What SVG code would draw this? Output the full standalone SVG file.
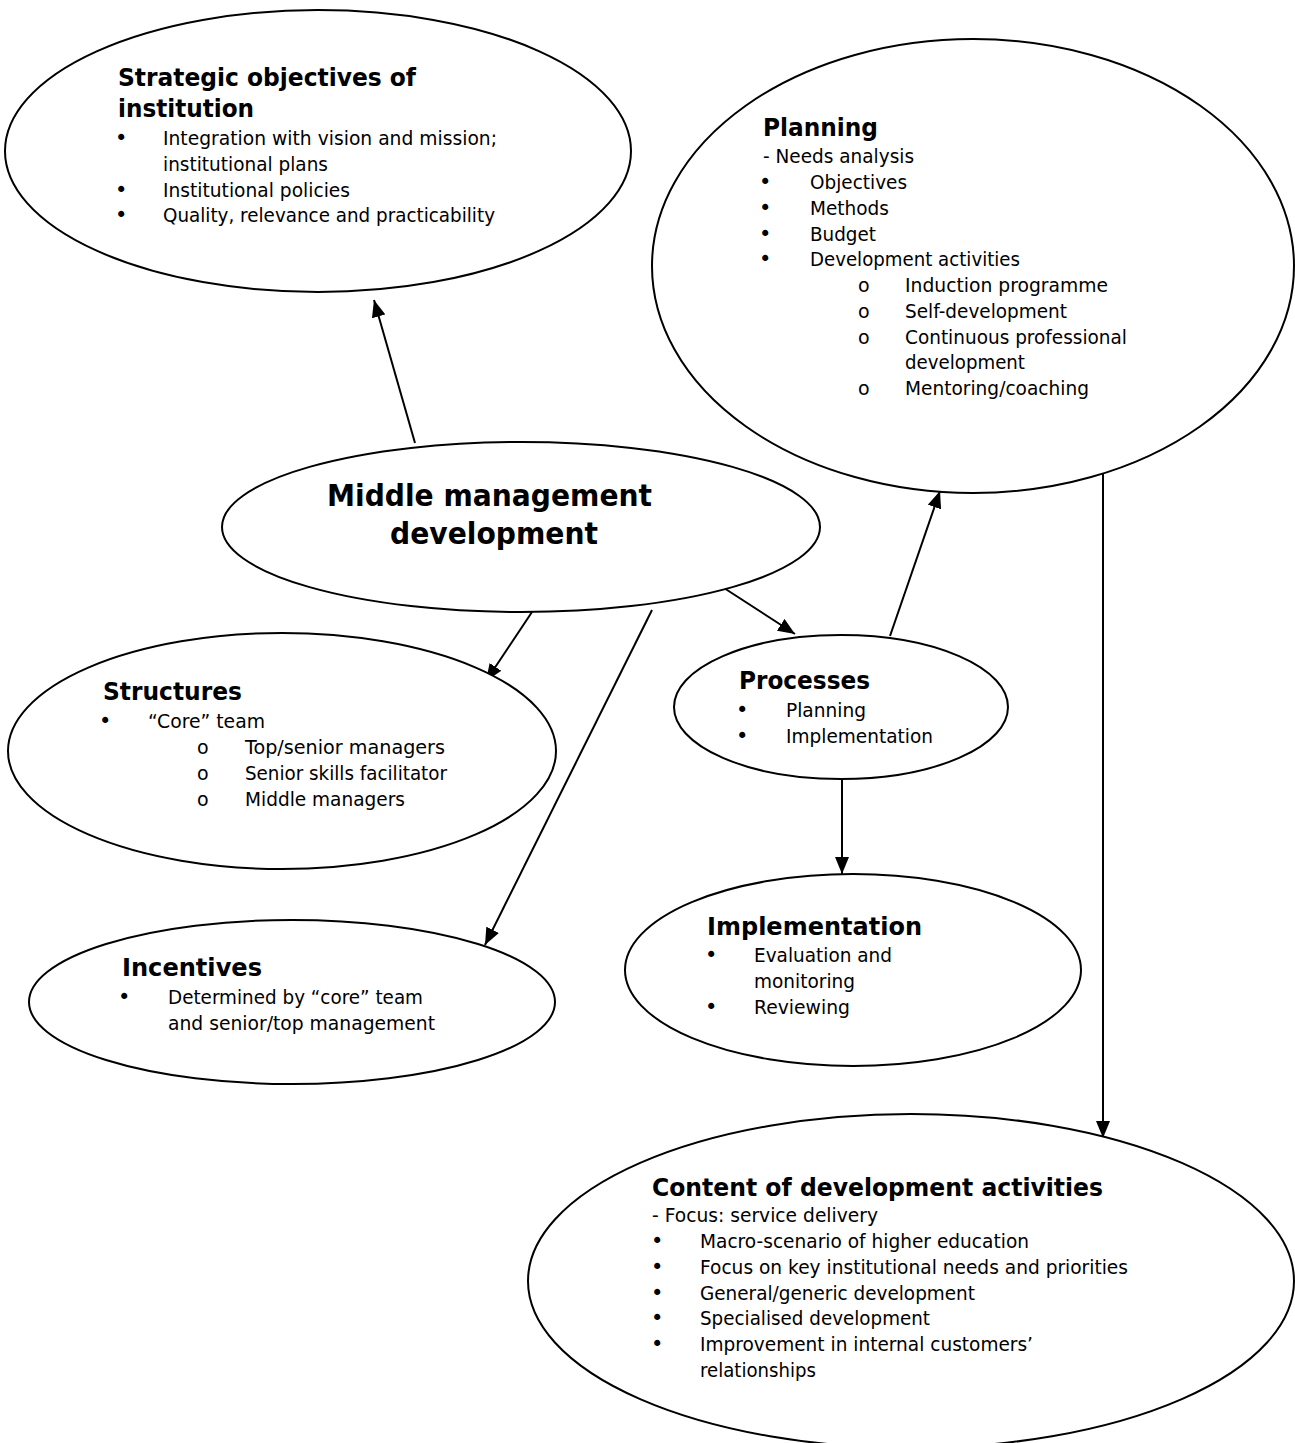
<svg xmlns="http://www.w3.org/2000/svg" width="1295" height="1443" viewBox="0 0 1295 1443">
<defs>
<style>
.n{fill:#fff;stroke:#000;stroke-width:2}
.t{font-family:"DejaVu Sans","Liberation Sans",sans-serif;font-size:19px;fill:#000}
.o{font-family:"DejaVu Sans","Liberation Sans",sans-serif;font-size:19px;fill:#000}
.h{font-family:"DejaVu Sans","Liberation Sans",sans-serif;font-size:24px;font-weight:bold;fill:#000}
.m{font-family:"DejaVu Sans","Liberation Sans",sans-serif;font-size:30px;font-weight:bold;fill:#000}
.b{font-family:"DejaVu Sans","Liberation Sans",sans-serif;font-size:21px;fill:#000}
.c{stroke:#000;stroke-width:2;fill:none;marker-end:url(#ah)}
</style>
<marker id="ah" markerUnits="userSpaceOnUse" markerWidth="18" markerHeight="14" refX="17" refY="7" orient="auto">
<path d="M0,0 L17,7 L0,14 z" fill="#000"/>
</marker>
</defs>
<rect width="1295" height="1443" fill="#fff"/>

<g id="connectors">
<line class="c" x1="415" y1="443" x2="374" y2="300"/>
<line class="c" x1="1103" y1="466" x2="1103" y2="1138"/>
<line class="c" x1="532" y1="612" x2="486" y2="681"/>
<line class="c" x1="652" y1="610" x2="485" y2="945"/>
<line class="c" x1="724" y1="588" x2="795" y2="634"/>
<line class="c" x1="890" y1="636" x2="940" y2="491"/>
<line class="c" x1="842" y1="780" x2="842" y2="874"/>
</g>

<g id="strategic">
<ellipse class="n" cx="318" cy="151" rx="313" ry="141"/>
<text class="h" x="118" y="86" textLength="298" lengthAdjust="spacingAndGlyphs">Strategic objectives of</text>
<text class="h" x="118" y="117" textLength="136" lengthAdjust="spacingAndGlyphs">institution</text>
<text class="b" x="115" y="145">•</text>
<text class="t" x="163" y="145" textLength="334" lengthAdjust="spacingAndGlyphs">Integration with vision and mission;</text>
<text class="t" x="163" y="171" textLength="165" lengthAdjust="spacingAndGlyphs">institutional plans</text>
<text class="b" x="115" y="197">•</text>
<text class="t" x="163" y="197" textLength="187" lengthAdjust="spacingAndGlyphs">Institutional policies</text>
<text class="b" x="115" y="222">•</text>
<text class="t" x="163" y="222" textLength="332" lengthAdjust="spacingAndGlyphs">Quality, relevance and practicability</text>
</g>

<g id="planning">
<ellipse class="n" cx="973" cy="266" rx="321" ry="227"/>
<text class="h" x="763" y="136" textLength="115" lengthAdjust="spacingAndGlyphs">Planning</text>
<text class="t" x="763" y="163" textLength="151" lengthAdjust="spacingAndGlyphs">- Needs analysis</text>
<text class="b" x="759" y="189">•</text>
<text class="t" x="810" y="189" textLength="97" lengthAdjust="spacingAndGlyphs">Objectives</text>
<text class="b" x="759" y="215">•</text>
<text class="t" x="810" y="215" textLength="79" lengthAdjust="spacingAndGlyphs">Methods</text>
<text class="b" x="759" y="241">•</text>
<text class="t" x="810" y="241" textLength="66" lengthAdjust="spacingAndGlyphs">Budget</text>
<text class="b" x="759" y="266">•</text>
<text class="t" x="810" y="266" textLength="210" lengthAdjust="spacingAndGlyphs">Development activities</text>
<text class="o" x="858" y="292">o</text>
<text class="t" x="905" y="292" textLength="203" lengthAdjust="spacingAndGlyphs">Induction programme</text>
<text class="o" x="858" y="318">o</text>
<text class="t" x="905" y="318" textLength="162" lengthAdjust="spacingAndGlyphs">Self-development</text>
<text class="o" x="858" y="344">o</text>
<text class="t" x="905" y="344" textLength="222" lengthAdjust="spacingAndGlyphs">Continuous professional</text>
<text class="t" x="905" y="369" textLength="120" lengthAdjust="spacingAndGlyphs">development</text>
<text class="o" x="858" y="395">o</text>
<text class="t" x="905" y="395" textLength="184" lengthAdjust="spacingAndGlyphs">Mentoring/coaching</text>
</g>

<g id="middle">
<ellipse class="n" cx="521" cy="527" rx="299" ry="85"/>
<text class="m" x="327" y="506" textLength="325" lengthAdjust="spacingAndGlyphs">Middle management</text>
<text class="m" x="390" y="544" textLength="208" lengthAdjust="spacingAndGlyphs">development</text>
</g>

<g id="structures">
<ellipse class="n" cx="282" cy="751" rx="274" ry="118"/>
<text class="h" x="103" y="700" textLength="139" lengthAdjust="spacingAndGlyphs">Structures</text>
<text class="b" x="99" y="728">•</text>
<text class="t" x="148" y="728" textLength="117" lengthAdjust="spacingAndGlyphs">“Core” team</text>
<text class="o" x="197" y="754">o</text>
<text class="t" x="245" y="754" textLength="200" lengthAdjust="spacingAndGlyphs">Top/senior managers</text>
<text class="o" x="197" y="780">o</text>
<text class="t" x="245" y="780" textLength="202" lengthAdjust="spacingAndGlyphs">Senior skills facilitator</text>
<text class="o" x="197" y="806">o</text>
<text class="t" x="245" y="806" textLength="160" lengthAdjust="spacingAndGlyphs">Middle managers</text>
</g>

<g id="incentives">
<ellipse class="n" cx="292" cy="1002" rx="263" ry="82"/>
<text class="h" x="122" y="976" textLength="140" lengthAdjust="spacingAndGlyphs">Incentives</text>
<text class="b" x="118" y="1004">•</text>
<text class="t" x="168" y="1004" textLength="255" lengthAdjust="spacingAndGlyphs">Determined by “core” team</text>
<text class="t" x="168" y="1030" textLength="267" lengthAdjust="spacingAndGlyphs">and senior/top management</text>
</g>

<g id="processes">
<ellipse class="n" cx="841" cy="707" rx="167" ry="72"/>
<text class="h" x="739" y="689" textLength="131" lengthAdjust="spacingAndGlyphs">Processes</text>
<text class="b" x="736" y="717">•</text>
<text class="t" x="786" y="717" textLength="80" lengthAdjust="spacingAndGlyphs">Planning</text>
<text class="b" x="736" y="743">•</text>
<text class="t" x="786" y="743" textLength="147" lengthAdjust="spacingAndGlyphs">Implementation</text>
</g>

<g id="implementation">
<ellipse class="n" cx="853" cy="970" rx="228" ry="96"/>
<text class="h" x="707" y="935" textLength="215" lengthAdjust="spacingAndGlyphs">Implementation</text>
<text class="b" x="705" y="962">•</text>
<text class="t" x="754" y="962" textLength="138" lengthAdjust="spacingAndGlyphs">Evaluation and</text>
<text class="t" x="754" y="988" textLength="101" lengthAdjust="spacingAndGlyphs">monitoring</text>
<text class="b" x="705" y="1014">•</text>
<text class="t" x="754" y="1014" textLength="96" lengthAdjust="spacingAndGlyphs">Reviewing</text>
</g>

<g id="content">
<ellipse class="n" cx="911" cy="1281" rx="383" ry="167"/>
<text class="h" x="652" y="1196" textLength="451" lengthAdjust="spacingAndGlyphs">Content of development activities</text>
<text class="t" x="652" y="1222" textLength="226" lengthAdjust="spacingAndGlyphs">- Focus: service delivery</text>
<text class="b" x="651" y="1248">•</text>
<text class="t" x="700" y="1248" textLength="329" lengthAdjust="spacingAndGlyphs">Macro-scenario of higher education</text>
<text class="b" x="651" y="1274">•</text>
<text class="t" x="700" y="1274" textLength="428" lengthAdjust="spacingAndGlyphs">Focus on key institutional needs and priorities</text>
<text class="b" x="651" y="1300">•</text>
<text class="t" x="700" y="1300" textLength="275" lengthAdjust="spacingAndGlyphs">General/generic development</text>
<text class="b" x="651" y="1325">•</text>
<text class="t" x="700" y="1325" textLength="230" lengthAdjust="spacingAndGlyphs">Specialised development</text>
<text class="b" x="651" y="1351">•</text>
<text class="t" x="700" y="1351" textLength="333" lengthAdjust="spacingAndGlyphs">Improvement in internal customers’</text>
<text class="t" x="700" y="1377" textLength="116" lengthAdjust="spacingAndGlyphs">relationships</text>
</g>
</svg>
